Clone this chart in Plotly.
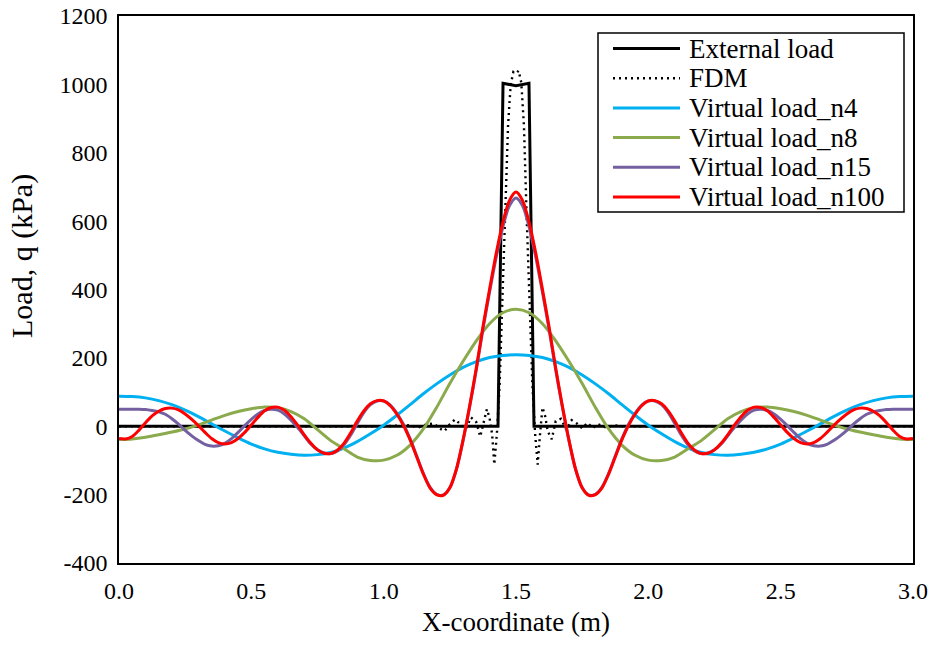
import plotly.graph_objects as go

# ---- sample positions -------------------------------------------------------
X_COARSE = [round(i * 0.05, 3) for i in range(61)]   # 0.00 ... 3.00
X_FINE = [round(i * 0.025, 3) for i in range(121)]   # 0.000 ... 3.000

# ---- external (applied) load ------------------------------------------------
EXT_X = [0.0, 1.432, 1.451, 1.5, 1.549, 1.568, 3.0]
EXT_Q = [0, 0, 1003, 996, 1003, 0, 0]

# ---- finite difference solution ---------------------------------------------
FDM_X = [0.0, 0.5, 1.0,
         1.10, 1.13, 1.16, 1.19, 1.21, 1.23, 1.25, 1.27, 1.29, 1.31,
         1.33, 1.35, 1.365, 1.38, 1.39, 1.40, 1.41, 1.418, 1.428, 1.438,
         1.45, 1.46, 1.47, 1.48, 1.49, 1.50, 1.51, 1.52, 1.53, 1.54,
         1.55, 1.562, 1.572, 1.582, 1.59, 1.60, 1.61, 1.62, 1.635, 1.65,
         1.67, 1.69, 1.71, 1.73, 1.75, 1.77, 1.79, 1.81, 1.84, 1.87,
         1.90, 2.0, 2.5, 3.0]
FDM_Q = [0, 0, 0,
         3, -4, 5, 8, -6, -14, 6, 20, 6, -8,
         26, 12, -30, 15, 50, 25, -25, -112, -20, 120,
         400, 620, 880, 1000, 1036, 1032, 1040, 1005, 880, 620,
         400, 120, -20, -112, -30, 55, 30, -15, -38, 15,
         22, -10, 18, 8, -6, 10, -5, 6, -4, 3,
         0, 0, 0, 0]

# ---- virtual loads (truncated series) ---------------------------------------
Q_N4 = [88, 87, 83, 75, 63, 47, 28, 7, -14, -34, -52, -66, -76, -82, -85, -83,
        -77, -64, -45, -22, 3, 32, 63, 95, 124, 150, 172, 189, 201, 207, 209,
        207, 201, 189, 172, 150, 124, 95, 63, 32, 3, -22, -45, -64, -77, -83,
        -85, -82, -76, -66, -52, -34, -14, 7, 28, 47, 63, 75, 83, 87, 88]

Q_N8 = [-39, -37, -32, -25, -17, -8, 4, 18, 32, 43, 51, 56, 54, 43, 22, -10,
        -42, -66, -90, -100, -99, -85, -55, -8, 55, 125, 190, 250, 300, 332, 342,
        332, 300, 250, 190, 125, 55, -8, -55, -85, -99, -100, -90, -66, -42, -10,
        22, 43, 54, 56, 51, 43, 32, 18, 4, -8, -17, -25, -32, -37, -39]

Q_N15 = [50, 50, 50, 50, 49, 46, 42, 35, 22, 6, -12, -28, -42, -53, -58, -57,
         -50, -36, -18, 2, 20, 36, 46, 50, 47, 36, 18, -4, -28, -52, -69, -78,
         -80, -72, -54, -26, 8, 40, 63, 74, 74, 62, 38, 5, -37, -87, -138, -178,
         -199, -201, -180, -126, -42, 57, 165, 283, 392, 494, 582, 645, 668,
         645, 582, 494, 392, 283, 165, 57, -42, -126, -180, -201, -199, -178,
         -138, -87, -37, 5, 38, 62, 74, 74, 63, 40, 8, -26, -54, -72, -80, -78,
         -69, -52, -28, -4, 18, 36, 47, 50, 46, 36, 20, 2, -18, -36, -50, -57,
         -58, -53, -42, -28, -12, 6, 22, 35, 42, 46, 49, 50, 50, 50, 50]

Q_N100 = [-36, -37, -30, -12, 10, 30, 44, 52, 53, 48, 36, 20, 2, -18, -36, -48,
          -52, -48, -36, -18, 4, 26, 45, 55, 56, 47, 28, 3, -25, -50, -69, -79,
          -80, -70, -50, -20, 15, 45, 66, 75, 74, 60, 35, 2, -40, -90, -140, -180,
          -200, -202, -180, -125, -40, 60, 170, 290, 400, 505, 595, 660, 685,
          660, 595, 505, 400, 290, 170, 60, -40, -125, -180, -202, -200, -180,
          -140, -90, -40, 2, 35, 60, 74, 75, 66, 45, 15, -20, -50, -70, -80, -79,
          -69, -50, -25, 3, 28, 47, 56, 55, 45, 26, 4, -18, -36, -48, -52, -48,
          -36, -18, 2, 20, 36, 48, 53, 52, 44, 30, 10, -12, -30, -37, -36]

# ---- axis ticks -------------------------------------------------------------
X_TICKS = [0.0, 0.5, 1.0, 1.5, 2.0, 2.5, 3.0]
X_TICK_TEXT = ["0.0", "0.5", "1.0", "1.5", "2.0", "2.5", "3.0"]
Y_TICKS = [-400, -200, 0, 200, 400, 600, 800, 1000, 1200]
Y_TICK_TEXT = ["-400", "-200", "0", "200", "400", "600", "800", "1000", "1200"]

FONT = "Liberation Serif, Times New Roman, serif"

W, H = 934, 645
L, R, T, B = 119, 21, 16, 82          # plot-area margins in px
PW, PH = W - L - R, H - T - B


def paper_x(px):
    return (px - L) / PW


def paper_y(py):
    return (H - B - py) / PH


series = [
    ("External load", EXT_X, EXT_Q, dict(color="black", width=3), None),
    ("FDM", FDM_X, FDM_Q, dict(color="black", width=2.4, dash="2px,4px"), None),
    ("Virtual load_n4", X_COARSE, Q_N4, dict(color="#00B0F0", width=3), "spline"),
    ("Virtual load_n8", X_COARSE, Q_N8, dict(color="#8AAA4C", width=3), "spline"),
    ("Virtual load_n15", X_FINE, Q_N15, dict(color="#7460A0", width=3), "spline"),
    ("Virtual load_n100", X_FINE, Q_N100, dict(color="#FF0000", width=3), "spline"),
]

fig = go.Figure()
for name, xs, ys, style, shape in series:
    line = dict(style)
    if shape:
        line.update(shape=shape, smoothing=0.8)
    fig.add_trace(go.Scatter(x=xs, y=ys, mode="lines", name=name, line=line,
                             showlegend=False))

# ---- boxed legend in the upper-right corner ---------------------------------
LEG_LEFT, LEG_RIGHT, LEG_TOP, LEG_BOTTOM = 598, 904, 33, 212
ROW0, ROW_STEP = 48.5, 29.7
shapes = [dict(type="rect", xref="paper", yref="paper",
               x0=paper_x(LEG_LEFT), x1=paper_x(LEG_RIGHT),
               y0=paper_y(LEG_BOTTOM), y1=paper_y(LEG_TOP),
               line=dict(color="black", width=1.5), fillcolor="white", layer="above")]
annotations = []
for i, (name, _, _, style, _) in enumerate(series):
    yrow = paper_y(ROW0 + i * ROW_STEP)
    shapes.append(dict(type="line", xref="paper", yref="paper",
                       x0=paper_x(613), x1=paper_x(680), y0=yrow, y1=yrow,
                       line=dict(color=style["color"], width=style["width"],
                                 dash=style.get("dash", "solid")),
                       layer="above"))
    annotations.append(dict(text=name, xref="paper", yref="paper",
                            x=paper_x(687), y=yrow, xanchor="left", yanchor="middle",
                            showarrow=False,
                            font=dict(family=FONT, size=27, color="black")))

# vertical axis title
annotations.append(dict(text="Load, q (kPa)", xref="paper", yref="paper",
                        x=paper_x(22), y=paper_y(256), xanchor="center",
                        yanchor="middle", textangle=-90, showarrow=False,
                        font=dict(family=FONT, size=30, color="black")))

axis_common = dict(showline=True, linecolor="black", linewidth=1.5, mirror=True,
                   showgrid=False, zeroline=False, ticks="", automargin=False,
                   tickfont=dict(family=FONT, size=24, color="black"))

fig.update_layout(
    width=W, height=H,
    margin=dict(l=L, r=R, t=T, b=B, autoexpand=False),
    paper_bgcolor="white", plot_bgcolor="white",
    font=dict(family=FONT, size=24, color="black"),
    xaxis=dict(range=[0, 3], tickvals=X_TICKS, ticktext=X_TICK_TEXT,
               ticklabelstandoff=5,
               title=dict(text="X-coordinate (m)", standoff=10,
                          font=dict(family=FONT, size=27)),
               **axis_common),
    yaxis=dict(range=[-400, 1200], tickvals=Y_TICKS, ticktext=Y_TICK_TEXT,
               ticklabelstandoff=5, **axis_common),
    shapes=shapes,
    annotations=annotations,
    showlegend=False,
)

fig.write_html("out.html")
